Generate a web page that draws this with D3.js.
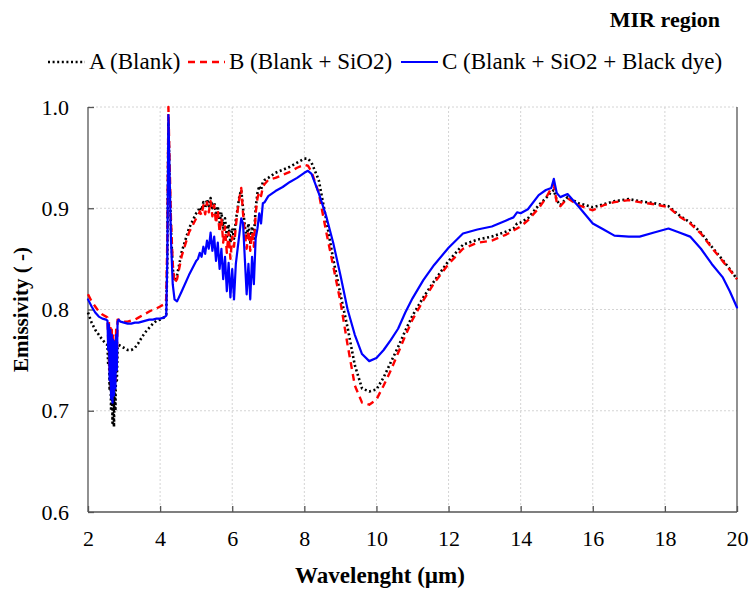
<!DOCTYPE html>
<html lang="en">
<head>
    <meta charset="UTF-8">
    <title>MIR region emissivity</title>
    <script src="https://d3js.org/d3.v7.min.js"></script>
    <style>
        body { margin: 0; background: #fff; }
        svg text { font-family: "Liberation Serif", "Times New Roman", serif; fill: #000; }
        .grid line { stroke: #d4d4d4; stroke-width: 1; stroke-dasharray: 2,2; }
        .axis path, .axis line { stroke: #555; stroke-width: 1.3; }
        .axis text { font-size: 22px; }
    </style>
</head>
<body>
    <svg id="chart" width="752" height="590"></svg>

    <script>
        // wavelength grid (um) shared by the three spectra
        const wavelength = [
            2.0, 2.1, 2.2, 2.3, 2.4, 2.5,
            2.54, 2.56, 2.58, 2.60, 2.62, 2.64, 2.66, 2.68, 2.70, 2.72, 2.74, 2.76, 2.78, 2.80, 2.82, 2.85, 2.9,
            3.0, 3.1, 3.2, 3.3, 3.4, 3.5, 3.6, 3.7, 3.8, 3.9, 4.0, 4.1, 4.17, 4.2, 4.23, 4.26, 4.3, 4.35, 4.4, 4.47, 4.6, 4.8, 5.0,
            5.05, 5.1, 5.15, 5.2, 5.25, 5.3, 5.35, 5.4, 5.45, 5.5, 5.55, 5.6, 5.65, 5.7, 5.75, 5.8, 5.85, 5.9, 5.95,
            6.0, 6.05, 6.1, 6.15, 6.2, 6.25, 6.3, 6.35, 6.4, 6.45, 6.5, 6.55, 6.6, 6.65, 6.7, 6.75, 6.8, 6.85, 6.9,
            7.0, 7.2, 7.4, 7.6, 7.8, 8.0, 8.1, 8.2, 8.4, 8.6, 8.8, 9.0, 9.2, 9.4, 9.6, 9.8, 10.0, 10.2, 10.4,
            10.6, 10.8, 11.0, 11.3, 11.6, 12.0, 12.4, 12.8, 13.2, 13.6, 13.8, 13.9, 14.0, 14.2, 14.5, 14.7,
            14.85, 14.92, 15.0, 15.1, 15.3, 15.6, 16.0, 16.3, 16.6, 17.0, 17.3, 17.7, 18.1, 18.4, 18.7, 19.0,
            19.3, 19.6, 19.8, 20.0
        ];

        // A (Blank)
        const blankA = [
            0.797, 0.787, 0.780, 0.775, 0.770, 0.766,
            0.765, 0.745, 0.760, 0.720, 0.755, 0.700, 0.745, 0.688, 0.740, 0.684, 0.735, 0.700, 0.750, 0.730, 0.762, 0.765, 0.764,
            0.762, 0.760, 0.760, 0.762, 0.767, 0.773, 0.778, 0.782, 0.786, 0.789, 0.790, 0.792, 0.795, 0.850, 0.985, 0.930, 0.880, 0.840, 0.830, 0.834, 0.857, 0.880, 0.895,
            0.897, 0.901, 0.898, 0.906, 0.900, 0.909, 0.902, 0.910, 0.900, 0.906, 0.893, 0.902, 0.886, 0.896, 0.880, 0.890, 0.872, 0.884, 0.866,
            0.880, 0.870, 0.888, 0.900, 0.912, 0.918, 0.900, 0.882, 0.870, 0.885, 0.866, 0.882, 0.870, 0.900, 0.915, 0.922, 0.918, 0.926, 0.928,
            0.930, 0.935, 0.938, 0.941, 0.945, 0.949, 0.949, 0.945, 0.928, 0.890, 0.850, 0.815, 0.782, 0.745, 0.722, 0.719, 0.721, 0.733, 0.748,
            0.763, 0.779, 0.794, 0.812, 0.828, 0.848, 0.864, 0.869, 0.872, 0.877, 0.880, 0.885, 0.886, 0.890, 0.903, 0.910,
            0.916, 0.918, 0.908, 0.903, 0.911, 0.905, 0.901, 0.904, 0.907, 0.909, 0.907, 0.905, 0.902, 0.893, 0.886, 0.876,
            0.862, 0.849, 0.840, 0.830
        ];

        // B (Blank + SiO2)
        const blankSiO2 = [
            0.815, 0.808, 0.803, 0.798, 0.795, 0.793,
            0.792, 0.770, 0.788, 0.740, 0.785, 0.722, 0.780, 0.715, 0.776, 0.720, 0.772, 0.730, 0.780, 0.750, 0.790, 0.790, 0.789,
            0.788, 0.788, 0.789, 0.790, 0.792, 0.794, 0.796, 0.798, 0.800, 0.801, 0.803, 0.805, 0.810, 0.870, 1.000, 0.950, 0.890, 0.845, 0.826, 0.830, 0.853, 0.876, 0.890,
            0.892, 0.897, 0.893, 0.903, 0.894, 0.906, 0.896, 0.907, 0.892, 0.903, 0.885, 0.898, 0.876, 0.890, 0.866, 0.882, 0.856, 0.876, 0.850,
            0.872, 0.862, 0.882, 0.898, 0.910, 0.920, 0.895, 0.875, 0.860, 0.878, 0.858, 0.876, 0.862, 0.895, 0.910, 0.916, 0.912, 0.921, 0.924,
            0.928, 0.930, 0.933, 0.936, 0.940, 0.943, 0.942, 0.936, 0.915, 0.878, 0.843, 0.808, 0.765, 0.725, 0.708, 0.706, 0.711, 0.725, 0.740,
            0.757, 0.774, 0.790, 0.809, 0.826, 0.845, 0.860, 0.866, 0.868, 0.874, 0.878, 0.880, 0.882, 0.888, 0.900, 0.910,
            0.920, 0.923, 0.906, 0.902, 0.910, 0.903, 0.898, 0.903, 0.906, 0.908, 0.906, 0.904, 0.901, 0.892, 0.885, 0.875,
            0.861, 0.848, 0.839, 0.830
        ];

        // C (Blank + SiO2 + Black dye)
        const blankSiO2Dye = [
            0.810, 0.803, 0.797, 0.793, 0.791, 0.790,
            0.789, 0.760, 0.785, 0.730, 0.780, 0.712, 0.775, 0.708, 0.770, 0.715, 0.768, 0.722, 0.775, 0.740, 0.788, 0.790, 0.788,
            0.787, 0.786, 0.786, 0.787, 0.787, 0.788, 0.789, 0.790, 0.790, 0.791, 0.791, 0.792, 0.794, 0.850, 0.992, 0.940, 0.870, 0.825, 0.810, 0.808, 0.818, 0.834, 0.848,
            0.850, 0.856, 0.852, 0.862, 0.855, 0.868, 0.860, 0.876, 0.858, 0.872, 0.848, 0.866, 0.840, 0.860, 0.830, 0.852, 0.818, 0.846, 0.812,
            0.840, 0.810, 0.845, 0.860, 0.875, 0.890, 0.885, 0.850, 0.815, 0.845, 0.810, 0.852, 0.825, 0.870, 0.880, 0.895, 0.885, 0.905, 0.906,
            0.912, 0.917, 0.921, 0.926, 0.930, 0.935, 0.937, 0.934, 0.915, 0.893, 0.866, 0.834, 0.800, 0.775, 0.756, 0.749, 0.752, 0.760, 0.770,
            0.781, 0.797, 0.811, 0.829, 0.844, 0.861, 0.875, 0.879, 0.882, 0.888, 0.891, 0.896, 0.895, 0.899, 0.913, 0.918,
            0.920, 0.929, 0.915, 0.911, 0.914, 0.902, 0.885, 0.879, 0.873, 0.872, 0.872, 0.876, 0.880, 0.876, 0.872, 0.860,
            0.845, 0.832, 0.818, 0.802
        ];

        const seriesNames = ['A (Blank)', 'B (Blank + SiO2)', 'C (Blank + SiO2 + Black dye)'];
        const xTicks = [2, 4, 6, 8, 10, 12, 14, 16, 18, 20];
        const yTicks = [0.6, 0.7, 0.8, 0.9, 1.0];

        const svg = d3.select('#chart');
        const margin = { top: 107, right: 15, bottom: 78, left: 88 };
        const width = +svg.attr('width') - margin.left - margin.right;
        const height = +svg.attr('height') - margin.top - margin.bottom;

        const x = d3.scaleLinear().domain([2, 20]).range([0, width]);
        const y = d3.scaleLinear().domain([0.6, 1.0]).range([height, 0]);

        const g = svg.append('g').attr('transform', `translate(${margin.left},${margin.top})`);

        // gridlines
        g.append('g').attr('class', 'grid')
            .selectAll('line').data(xTicks.slice(1, -1)).join('line')
            .attr('x1', d => x(d)).attr('x2', d => x(d))
            .attr('y1', 0).attr('y2', height);
        g.append('g').attr('class', 'grid')
            .selectAll('line').data(yTicks.slice(1)).join('line')
            .attr('x1', 0).attr('x2', width)
            .attr('y1', d => y(d)).attr('y2', d => y(d));

        // right frame line
        g.append('line')
            .attr('x1', width).attr('x2', width)
            .attr('y1', 0).attr('y2', height)
            .attr('stroke', '#555').attr('stroke-width', 1.3);

        // axes, ticks point inward
        g.append('g').attr('class', 'axis')
            .attr('transform', `translate(0,${height})`)
            .call(d3.axisBottom(x).tickValues(xTicks).tickSize(-6).tickPadding(18).tickFormat(d3.format('d')))
            .call(a => a.select('.domain').attr('d', `M0,0H${width}`));
        g.append('g').attr('class', 'axis')
            .call(d3.axisLeft(y).tickValues(yTicks).tickSize(-6).tickPadding(19).tickFormat(d3.format('.1f')))
            .call(a => a.select('.domain').attr('d', `M0,0V${height}`));

        // spectra
        const line = d3.line()
            .x((d, i) => x(wavelength[i]))
            .y(d => y(d));

        const styles = [
            { data: blankA, color: '#000', width: 2.6, dash: '2,2.6', cap: 'butt' },
            { data: blankSiO2, color: '#ff0000', width: 2.4, dash: '7,5', cap: 'butt' },
            { data: blankSiO2Dye, color: '#0000ff', width: 2.2, dash: null, cap: 'round' }
        ];

        styles.forEach(s => {
            g.append('path')
                .datum(s.data)
                .attr('fill', 'none')
                .attr('stroke', s.color)
                .attr('stroke-width', s.width)
                .attr('stroke-dasharray', s.dash)
                .attr('stroke-linejoin', 'round')
                .attr('stroke-linecap', s.cap)
                .attr('d', line);
        });

        // axis titles
        svg.append('text')
            .attr('x', 380).attr('y', 583)
            .attr('text-anchor', 'middle')
            .style('font-size', '23px').style('font-weight', 'bold')
            .text('Wavelenght (\u00b5m)');
        svg.append('text')
            .attr('transform', `translate(28,${margin.top + height / 2}) rotate(-90)`)
            .attr('text-anchor', 'middle')
            .style('font-size', '21px').style('font-weight', 'bold')
            .text('Emissivity ( -)');

        // title top right
        svg.append('text')
            .attr('x', 720).attr('y', 27)
            .attr('text-anchor', 'end')
            .style('font-size', '22px').style('font-weight', 'bold')
            .text('MIR region');

        // legend
        const legendX = [48, 188, 401];
        const legend = svg.append('g');
        styles.forEach((s, i) => {
            legend.append('line')
                .attr('x1', legendX[i]).attr('x2', legendX[i] + 37)
                .attr('y1', 62).attr('y2', 62)
                .attr('stroke', s.color)
                .attr('stroke-width', s.width)
                .attr('stroke-dasharray', s.dash);
            legend.append('text')
                .attr('x', legendX[i] + 41).attr('y', 69)
                .style('font-size', '23px')
                .text(seriesNames[i]);
        });
    </script>
</body>
</html>
